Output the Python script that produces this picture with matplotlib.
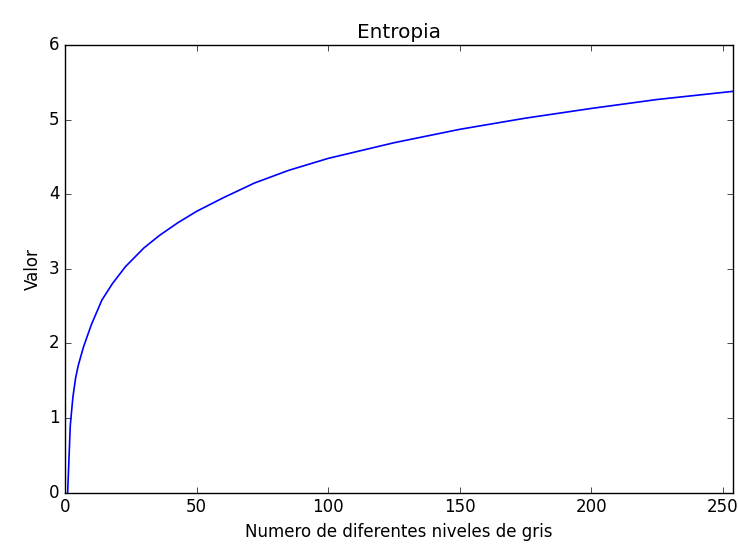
import matplotlib
matplotlib.use("Agg")
import matplotlib.pyplot as plt

niveles = [1, 2, 3, 4, 5, 7, 10, 14, 18, 23, 30, 36, 43, 50, 60, 72, 85,
           100, 125, 150, 175, 200, 225, 254]
entropia = [0.0, 0.90, 1.28, 1.53, 1.70, 1.95, 2.25, 2.58, 2.80, 3.03, 3.28,
            3.45, 3.62, 3.77, 3.95, 4.15, 4.32, 4.48, 4.69, 4.87, 5.02,
            5.15, 5.27, 5.38]

plt.style.use("classic")
fig = plt.figure(figsize=(7.38, 5.49), dpi=100)
ax = fig.add_axes([0.0881, 0.1029, 0.9055, 0.815])
ax.plot(niveles, entropia, color="b", linewidth=1.2)
ax.set_xlim(0, 254)
ax.set_ylim(0, 6)
ax.set_xticks([0, 50, 100, 150, 200, 250])
ax.set_title("Entropia")
ax.set_xlabel("Numero de diferentes niveles de gris")
ax.set_ylabel("Valor")
fig.savefig("out.png", dpi=100)
